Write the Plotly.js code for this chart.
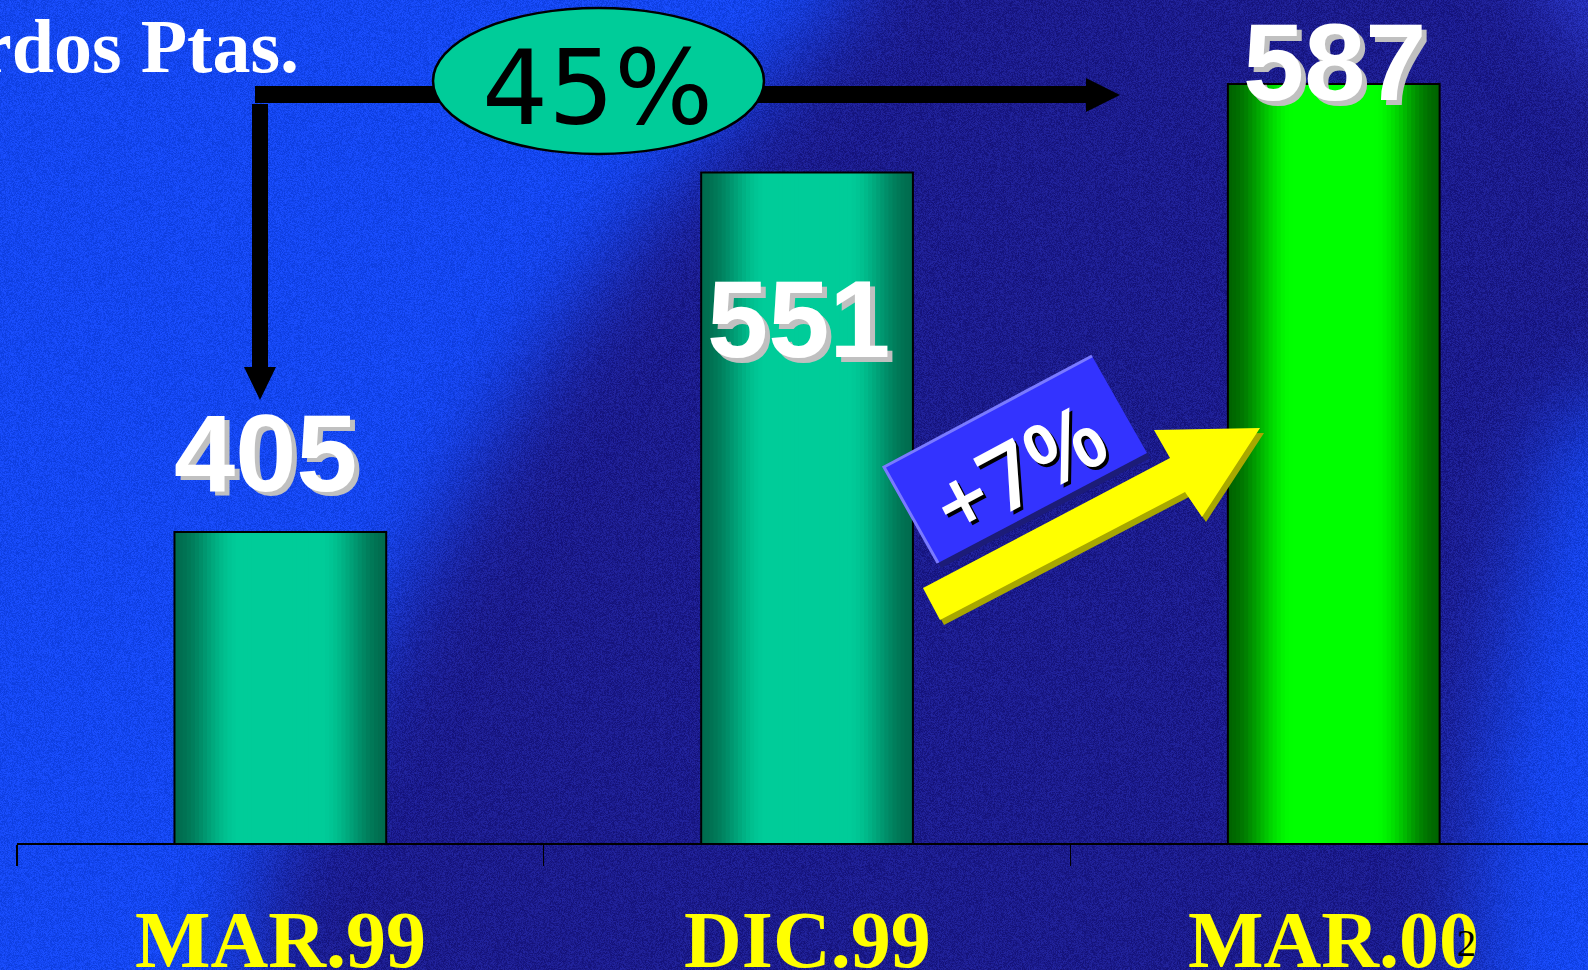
<!DOCTYPE html>
<html><head><meta charset="utf-8">
<script src="https://cdn.plot.ly/plotly-3.0.1.min.js"></script>
<style>html,body{margin:0;padding:0;background:#1a1a8a;overflow:hidden}</style>
</head><body><div id="chart" style="width:1588px;height:970px"></div>
<script>
// ---------------- DATA ----------------
const categories = ["MAR.99", "DIC.99", "MAR.00"];
const values = [405, 551, 587];
const unitLabel = "Millardos Ptas.";
const growthTotal = "45%";
const growthLast = "+7%";
const pageNumber = "2";

// ---------------- LAYOUT CONSTANTS ----------------
const W = 1588, H = 970, ML = 17, MR = 0, MT = 0, MB = 127;
const PW = W - ML - MR, PH = H - MT - MB;
const px = x => (x - ML) / PW;
const py = y => (H - MB - y) / PH;

// bar styling (per bar: edge colour, centre colour)
const EDGE = [[0, 108, 78], [0, 108, 78], [0, 100, 0]];
const CENTER = [[0, 204, 153], [0, 204, 153], [0, 255, 0]];
const BARW = 0.402;
const NLAYERS = 26;

// ---------------- BACKGROUND ----------------
function poly(g, pts) {
  g.beginPath();
  g.moveTo(pts[0][0], pts[0][1]);
  for (let i = 1; i < pts.length; i++) g.lineTo(pts[i][0], pts[i][1]);
  g.closePath();
}
function makeBg() {
  const c = document.createElement('canvas');
  c.width = W; c.height = H;
  const g = c.getContext('2d');
  g.fillStyle = '#1b1b8c';
  g.fillRect(0, 0, W, H);
  g.filter = 'blur(45px)';
  g.fillStyle = '#1446f0';
  poly(g, [[-200, -200], [880, -200], [850, 0], [760, 90], [650, 210], [560, 330], [480, 460], [400, 600], [330, 740], [260, 860], [230, 1200], [-200, 1200]]);
  g.fill();
  poly(g, [[1800, 330], [1560, 420], [1510, 600], [1480, 780], [1460, 1200], [1800, 1200]]);
  g.fill();
  g.fillStyle = '#2a3ad0';
  poly(g, [[1500, -100], [1800, -100], [1800, 120], [1600, 60]]);
  g.fill();
  g.filter = 'none';
  const im = g.getImageData(0, 0, W, H);
  const d = im.data;
  for (let y = 0; y < H; y++) {
    for (let x = 0; x < W; x++) {
      let h = (Math.imul(x, 73856093) ^ Math.imul(y, 19349663)) >>> 0;
      h = Math.imul(h ^ (h >>> 13), 1274126177) >>> 0;
      h = (h ^ (h >>> 16)) >>> 0;
      const n = ((h & 255) / 255 - 0.5) * 40;
      const i = (y * W + x) * 4;
      d[i] += n * 0.4; d[i + 1] += n * 0.5; d[i + 2] += n;
    }
  }
  g.putImageData(im, 0, 0);
  return c.toDataURL('image/png');
}

// ---------------- BAR TRACES (gradient by overlaid layers) ----------------
function mix(a, b, t) {
  return 'rgb(' + a.map((v, k) => Math.round(v + (b[k] - v) * t)).join(',') + ')';
}
const traces = [];
for (let i = 0; i < NLAYERS; i++) {
  const u = 1 - (i + 0.5) / NLAYERS;
  let s = Math.min(1, Math.max(0, (1 - u) / 0.62));
  s = s * s * (3 - 2 * s);
  traces.push({
    type: 'bar', x: categories, y: values,
    width: BARW * (1 - i / NLAYERS),
    marker: { color: categories.map((_, k) => mix(EDGE[k], CENTER[k], s)), line: { width: 0 } },
    hoverinfo: 'skip', showlegend: false
  });
}
traces.push({
  type: 'bar', x: categories, y: values, width: BARW,
  marker: { color: 'rgba(0,0,0,0)', line: { color: '#000', width: 2 } },
  hoverinfo: 'skip', showlegend: false
});

// ---------------- SHAPES ----------------
function pathOf(pts, close) {
  return 'M' + pts.map(p => px(p[0]).toFixed(5) + ',' + py(p[1]).toFixed(5)).join(' L') + (close === false ? '' : ' Z');
}
function shift(pts, dx, dy) { return pts.map(p => [p[0] + dx, p[1] + dy]); }
const blackH = [[255, 86], [1086, 86], [1086, 78], [1120, 95], [1086, 112], [1086, 103], [255, 103]];
const blackV = [[252, 104], [268, 104], [268, 367], [276, 367], [260, 400], [244, 367], [252, 367]];
const yellowArrow = [[923, 588], [1170, 458], [1154, 430], [1260, 428], [1202, 517], [1185, 492], [940, 620]];
const blueBox = [[884, 467], [1092, 356], [1147, 453], [938, 563]];

const shapes = [
  { type: 'path', xref: 'paper', yref: 'paper', path: pathOf(blackH), fillcolor: '#000', line: { width: 0 }, layer: 'above' },
  { type: 'path', xref: 'paper', yref: 'paper', path: pathOf(blackV), fillcolor: '#000', line: { width: 0 }, layer: 'above' },
  { type: 'circle', xref: 'paper', yref: 'paper', x0: px(433), x1: px(764), y0: py(154), y1: py(8),
    fillcolor: '#00cc99', line: { color: '#000', width: 2.5 }, layer: 'above' },
  { type: 'path', xref: 'paper', yref: 'paper', path: pathOf(shift(blueBox, 3, 5)), fillcolor: '#1c1c78', line: { width: 0 }, layer: 'above' },
  { type: 'path', xref: 'paper', yref: 'paper', path: pathOf(blueBox), fillcolor: '#3333ff', line: { width: 0 }, layer: 'above' },
  { type: 'path', xref: 'paper', yref: 'paper', path: pathOf([blueBox[3], blueBox[0], blueBox[1]], false), fillcolor: 'rgba(0,0,0,0)', line: { color: '#7a7aff', width: 3 }, layer: 'above' },
  { type: 'path', xref: 'paper', yref: 'paper', path: pathOf(shift(yellowArrow, 4, 5)), fillcolor: '#a8a800', line: { width: 0 }, layer: 'above' },
  { type: 'path', xref: 'paper', yref: 'paper', path: pathOf(yellowArrow), fillcolor: '#ffff00', line: { width: 0 }, layer: 'above' }
];

// ---------------- ANNOTATIONS ----------------
const LABEL_POS = [[266, 452], [799, 318], [1335, 62]];
const annotations = [];
function ann(text, x, y, font, extra) {
  return Object.assign({ text: text, xref: 'paper', yref: 'paper', x: px(x), y: py(y),
    xanchor: 'center', yanchor: 'middle', showarrow: false, font: font }, extra || {});
}
annotations.push(ann('<b>' + unitLabel + '</b>', 301, 46,
  { family: 'Liberation Serif', size: 76, color: '#ffffff' }, { xanchor: 'right' }));
annotations.push(ann(growthTotal, 597, 88, { family: 'DejaVu Sans', size: 104, color: '#000' }));
values.forEach((v, k) => {
  const [x, y] = LABEL_POS[k];
  const f = { family: 'Liberation Sans', size: 110, color: '#c0c0c0' };
  annotations.push(ann('<b>' + v + '</b>', x + 5, y + 5, f));
  annotations.push(ann('<b>' + v + '</b>', x, y, Object.assign({}, f, { color: '#ffffff' })));
});
annotations.push(ann(growthLast, 1021, 471, { family: 'Open Sans', size: 90, color: '#000', weight: 600 }, { textangle: -28 }));
annotations.push(ann(growthLast, 1018, 468, { family: 'Open Sans', size: 90, color: '#fff', weight: 600 }, { textangle: -28 }));
categories.forEach((c, k) => {
  annotations.push({ text: '<b>' + c + '</b>', xref: 'x', yref: 'paper', x: c, y: py(940),
    xanchor: 'center', yanchor: 'middle', showarrow: false,
    font: { family: 'Liberation Serif', size: 80, color: '#ffff00' } });
});
annotations.push(ann(pageNumber, 1466, 943, { family: 'Liberation Serif', size: 38, color: '#000' }));

// ---------------- LAYOUT ----------------
const layout = {
  width: W, height: H,
  margin: { l: ML, r: MR, t: MT, b: MB, pad: 0 },
  paper_bgcolor: '#1b1b8c', plot_bgcolor: 'rgba(0,0,0,0)',
  barmode: 'overlay', showlegend: false, hovermode: false,
  xaxis: {
    type: 'category', categoryorder: 'array', categoryarray: categories,
    range: [-0.5, -0.5 + PW / 526.7],
    showline: true, linecolor: '#000', linewidth: 2,
    ticks: 'outside', tickson: 'boundaries', ticklen: 21, tickwidth: 1.5, tickcolor: '#000',
    showticklabels: false, showgrid: false, zeroline: false, fixedrange: true
  },
  yaxis: { visible: false, range: [278.65, 621.13], showgrid: false, zeroline: false, fixedrange: true },
  shapes: shapes,
  annotations: annotations,
  images: [{
    source: makeBg(), xref: 'paper', yref: 'paper',
    x: -ML / PW, y: 1 + MT / PH, sizex: W / PW, sizey: H / PH,
    xanchor: 'left', yanchor: 'top', sizing: 'stretch', layer: 'below'
  }]
};

Plotly.newPlot('chart', traces, layout, { staticPlot: true, displayModeBar: false });
</script>
</body></html>
